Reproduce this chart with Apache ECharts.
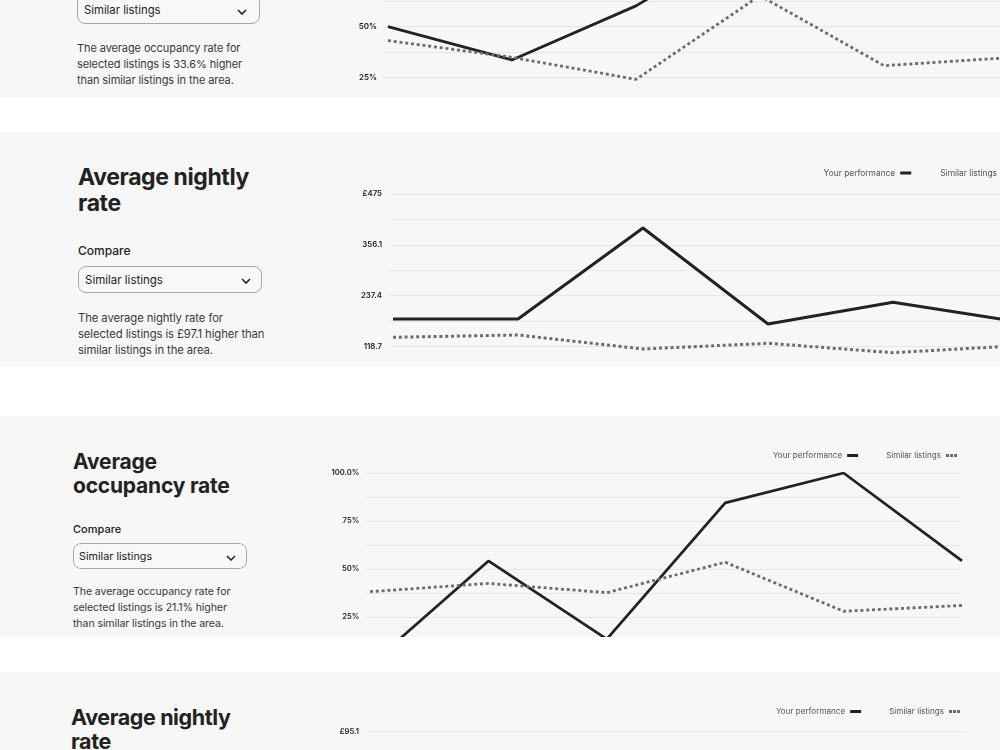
<!DOCTYPE html>
<html>
<head>
<meta charset="utf-8">
<script src="https://cdn.jsdelivr.net/npm/echarts@6/dist/echarts.min.js"></script>
<style>
  html, body { margin: 0; padding: 0; }
  body { width: 1000px; height: 750px; overflow: hidden; background: #fff; font-family: Inter, "Noto Sans", sans-serif; color: #222; }
  .panel { position: absolute; left: 0; width: 1000px; background: #f7f7f7; overflow: hidden; }
  .chart { position: absolute; left: 0; top: 0; width: 1100px; height: 300px; }
  .title { position: absolute; font-weight: 700; color: #222; white-space: nowrap; letter-spacing: -0.4px; }
  .label { position: absolute; font-weight: 500; color: #222; white-space: nowrap; }
  .note { position: absolute; color: #3a3a3a; white-space: nowrap; letter-spacing: -0.1px; }
  .select { position: absolute; box-sizing: border-box; border: 1px solid #a9a9a9; border-radius: 8px; background: #f8f8f8; }
  .select span { position: absolute; color: #222; white-space: nowrap; }
  .select svg { position: absolute; }
</style>
</head>
<body>

<!-- panel 1: occupancy rate, top of it is cut off -->
<div class="panel" style="top:0;height:97px">
  <div class="select" style="left:77px;top:-6px;width:183px;height:30px">
    <span style="left:6px;top:7px;font-size:11.3px;line-height:16px">Similar listings</span>
    <svg style="left:159px;top:14px" width="10" height="6"><path d="M1 1 L5 5 L9 1" fill="none" stroke="#222" stroke-width="1.6"/></svg>
  </div>
  <div class="note" style="left:77px;top:40px;font-size:11px;line-height:16px">The average occupancy rate for<br>selected listings is 33.6% higher<br>than similar listings in the area.</div>
  <div class="chart" id="c1" style="top:-120px"></div>
</div>

<!-- panel 2: nightly rate -->
<div class="panel" style="top:132px;height:235px">
  <div class="title" style="left:78px;top:33px;font-size:23px;line-height:25.7px">Average nightly<br>rate</div>
  <div class="label" style="left:78px;top:111px;font-size:12px;line-height:16px">Compare</div>
  <div class="select" style="left:78px;top:134px;width:184px;height:27px">
    <span style="left:6px;top:5px;font-size:11.5px;line-height:16px">Similar listings</span>
    <svg style="left:162px;top:11px" width="10" height="6"><path d="M1 1 L5 5 L9 1" fill="none" stroke="#222" stroke-width="1.6"/></svg>
  </div>
  <div class="note" style="left:78px;top:178px;font-size:11.3px;line-height:16.2px">The average nightly rate for<br>selected listings is £97.1 higher than<br>similar listings in the area.</div>
  <div class="chart" id="c2"></div>
</div>

<!-- panel 3: occupancy rate -->
<div class="panel" style="top:416px;height:221px">
  <div class="title" style="left:73px;top:34px;font-size:21px;line-height:24.2px;letter-spacing:-0.2px">Average<br>occupancy rate</div>
  <div class="label" style="left:73px;top:106px;font-size:11px;line-height:15px">Compare</div>
  <div class="select" style="left:73px;top:127px;width:174px;height:26px">
    <span style="left:5px;top:4.5px;font-size:10.8px;line-height:16px">Similar listings</span>
    <svg style="left:152px;top:11px" width="10" height="6"><path d="M1 1 L5 5 L9 1" fill="none" stroke="#222" stroke-width="1.5"/></svg>
  </div>
  <div class="note" style="left:73px;top:168px;font-size:10.6px;line-height:15.8px">The average occupancy rate for<br>selected listings is 21.1% higher<br>than similar listings in the area.</div>
  <div class="chart" id="c3"></div>
</div>

<!-- panel 4: nightly rate, only its top shows -->
<div class="panel" style="top:672px;height:78px">
  <div class="title" style="left:71px;top:33px;font-size:21.5px;line-height:24px">Average nightly<br>rate</div>
  <div class="chart" id="c4"></div>
</div>

<script>
const seriesNames = ['Your performance', 'Similar listings'];

// occupancy rate, top panel (the upper half is cut off)
const occ1Yours   = [49.8, 33.5, 60.0, 96, 100, 94];
const occ1Similar = [43.0, 34.8, 24.0, 65.0, 30.7, 34.6];
const occTicks    = ['100.0%', '75%', '50%', '25%', '0%'];

// nightly rate
const rate1Yours   = [183, 183, 395.6, 171.3, 222, 176.4];
const rate1Similar = [140.2, 145.6, 112.9, 126.2, 104.2, 120.6];
const rate1Ticks   = ['£475', '356.1', '237.4', '118.7', '0'];

// occupancy rate
const occ2Yours   = [0, 54.2, 13.5, 84.4, 100, 54.2];
const occ2Similar = [38.2, 42.5, 37.7, 53.5, 28.0, 31.0];

// nightly rate, bottom panel (lines are below the crop)
const rate2Yours   = [];
const rate2Similar = [];
const rate2Ticks   = ['£95.1'];

const dotIcon = 'path://M0,0h3v3h-3zM4,0h3v3h-3zM8,0h3v3h-3z';

function lineChart(id, o) {
  const chart = echarts.init(document.getElementById(id));
  const step = o.max / 8;
  chart.setOption({
    animation: false,
    legend: {
      right: o.legendRight,
      top: o.legendTop,
      align: 'right',
      itemGap: o.legendGap,
      itemWidth: 11,
      itemHeight: 3,
      padding: 0,
      textStyle: { fontFamily: 'Inter', fontSize: o.legendFont, color: '#555' },
      data: [
        { name: seriesNames[0], icon: 'rect' },
        { name: seriesNames[1], icon: dotIcon }
      ]
    },
    grid: { left: o.left, top: o.top, width: o.width, height: o.height, containLabel: false, outerBoundsMode: 'none' },
    xAxis: { type: 'value', min: -0.04, max: 5, show: false },
    yAxis: {
      type: 'value',
      min: 0,
      max: o.max,
      interval: step,
      axisLine: { show: false },
      axisTick: { show: false },
      splitLine: { lineStyle: { color: '#e6e6e6', width: 1 } },
      axisLabel: {
        margin: 6,
        fontFamily: 'Inter',
        fontSize: o.tickFont,
        fontWeight: 600,
        color: '#222',
        formatter: v => {
          const k = (o.max - v) / (step * 2);
          const i = Math.round(k);
          return Math.abs(k - i) < 1e-6 && o.ticks[i] != null ? o.ticks[i] : '';
        }
      }
    },
    series: [
      {
        name: seriesNames[0], type: 'line', symbol: 'none',
        data: o.yours.map((v, i) => [i, v]),
        itemStyle: { color: '#222' },
        lineStyle: { color: '#222', width: o.lw }
      },
      {
        name: seriesNames[1], type: 'line', symbol: 'none',
        data: o.similar.map((v, i) => [i, v]),
        itemStyle: { color: '#6c6c6c' },
        lineStyle: { color: '#6c6c6c', width: o.lw, type: [3, 2.8], cap: 'butt' }
      }
    ]
  });
  return chart;
}

lineChart('c1', {
  yours: occ1Yours, similar: occ1Similar, ticks: occTicks, max: 100,
  left: 383, width: 625, top: 44.3, height: 204,
  legendRight: 87, legendTop: 0, legendGap: 28, legendFont: 8.4, tickFont: 8, lw: 2.8
});
lineChart('c2', {
  yours: rate1Yours, similar: rate1Similar, ticks: rate1Ticks, max: 475,
  left: 388, width: 630, top: 62, height: 203.3,
  legendRight: 87, legendTop: 37, legendGap: 29, legendFont: 8.4, tickFont: 7.8, lw: 3
});
lineChart('c3', {
  yours: occ2Yours, similar: occ2Similar, ticks: occTicks, max: 100,
  left: 365.3, width: 596.7, top: 57, height: 192,
  legendRight: 143, legendTop: 35.5, legendGap: 28, legendFont: 8.1, tickFont: 7.6, lw: 2.8
});
lineChart('c4', {
  yours: rate2Yours, similar: rate2Similar, ticks: rate2Ticks, max: 95.1,
  left: 365, width: 600, top: 59.3, height: 192,
  legendRight: 140, legendTop: 35.5, legendGap: 28, legendFont: 8.1, tickFont: 7.6, lw: 2.8
});
</script>
</body>
</html>
